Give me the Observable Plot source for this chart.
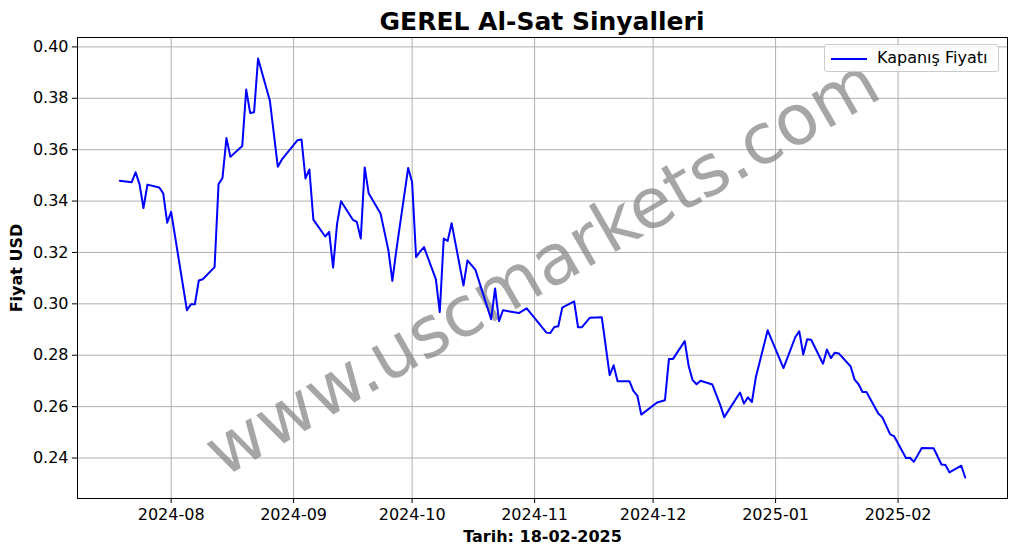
<!DOCTYPE html>
<html>
<head>
<meta charset="utf-8">
<script src="https://cdn.jsdelivr.net/npm/d3@7"></script>
<script src="https://cdn.jsdelivr.net/npm/@observablehq/plot@0.6"></script>
<style>
  html, body { margin: 0; padding: 0; background: #fff; }
  #wrap { position: relative; width: 1017px; height: 554px; font-family: "DejaVu Sans", sans-serif; }
  #title { position: absolute; left: 77px; width: 930px; top: 7px; line-height: 29px; text-align: center;
           font-weight: bold; font-size: 25px; color: #000; white-space: nowrap; }
  #spacer { height: 30px; }
  #legend { position: absolute; left: 824px; top: 44px; width: 175px; height: 28px; box-sizing: border-box;
            border: 1px solid #cccccc; border-radius: 3px; background: rgba(255,255,255,0.8); }
  #legend .sw { position: absolute; left: 6px; top: 13px; width: 36px; height: 2px; background: #0000ff; }
  #legend .lb { position: absolute; left: 52px; top: 3px; font-size: 16px; line-height: 20px; color: #000; white-space: nowrap; }
</style>
</head>
<body>
<div id="wrap">
  <div id="title">GEREL Al-Sat Sinyalleri</div>
  <div id="spacer"></div>
  <div id="chart"></div>
  <div id="legend"><div class="sw"></div><div class="lb">Kapanış Fiyatı</div></div>
</div>
<script>
const dates = [
  "2024-07-19","2024-07-22","2024-07-23","2024-07-24","2024-07-25","2024-07-26",
  "2024-07-29","2024-07-30","2024-07-31","2024-08-01",
  "2024-08-05","2024-08-06","2024-08-07","2024-08-08","2024-08-09",
  "2024-08-12","2024-08-13","2024-08-14","2024-08-15","2024-08-16",
  "2024-08-19","2024-08-20","2024-08-21","2024-08-22","2024-08-23",
  "2024-08-26","2024-08-28","2024-08-29",
  "2024-09-02","2024-09-03","2024-09-04","2024-09-05","2024-09-06",
  "2024-09-09","2024-09-10","2024-09-11","2024-09-12","2024-09-13",
  "2024-09-16","2024-09-17","2024-09-18","2024-09-19","2024-09-20",
  "2024-09-23","2024-09-25","2024-09-26","2024-09-27",
  "2024-09-30","2024-10-01","2024-10-02","2024-10-03","2024-10-04",
  "2024-10-07","2024-10-08","2024-10-09","2024-10-10","2024-10-11",
  "2024-10-14","2024-10-15","2024-10-17",
  "2024-10-21","2024-10-22","2024-10-23","2024-10-24",
  "2024-10-28","2024-10-30",
  "2024-11-04","2024-11-05","2024-11-06","2024-11-07","2024-11-08",
  "2024-11-11","2024-11-12","2024-11-13","2024-11-15",
  "2024-11-18","2024-11-20","2024-11-21","2024-11-22",
  "2024-11-25","2024-11-26","2024-11-27","2024-11-28",
  "2024-12-02","2024-12-04","2024-12-05","2024-12-06",
  "2024-12-09","2024-12-10","2024-12-11","2024-12-12","2024-12-13",
  "2024-12-16","2024-12-18","2024-12-19",
  "2024-12-23","2024-12-24","2024-12-25","2024-12-26","2024-12-27",
  "2024-12-30","2025-01-03",
  "2025-01-06","2025-01-07","2025-01-08","2025-01-09","2025-01-10",
  "2025-01-13","2025-01-14","2025-01-15","2025-01-16","2025-01-17",
  "2025-01-20","2025-01-21","2025-01-22","2025-01-23","2025-01-24",
  "2025-01-27","2025-01-28","2025-01-30","2025-01-31",
  "2025-02-03","2025-02-04","2025-02-05","2025-02-07",
  "2025-02-10","2025-02-12","2025-02-13","2025-02-14",
  "2025-02-17","2025-02-18"
];
const closes = [
  0.3479,0.3473,0.3512,0.3466,0.3373,0.3464,
  0.3453,0.3430,0.3316,0.3358,
  0.2975,0.2998,0.2998,0.3091,0.3096,
  0.3143,0.3466,0.3490,0.3645,0.3572,
  0.3614,0.3834,0.3743,0.3746,0.3955,
  0.3790,0.3534,0.3561,
  0.3637,0.3640,0.3488,0.3523,0.3328,
  0.3262,0.3280,0.3141,0.3311,0.3399,
  0.3327,0.3319,0.3254,0.3531,0.3430,
  0.3352,0.3208,0.3089,0.3208,
  0.3529,0.3473,0.3182,0.3203,0.3221,
  0.3096,0.2968,0.3254,0.3245,0.3314,
  0.3071,0.3169,0.3133,
  0.2940,0.3060,0.2933,0.2975,
  0.2964,0.2982,
  0.2888,0.2887,0.2910,0.2913,0.2985,
  0.3010,0.2909,0.2909,0.2946,
  0.2948,0.2723,0.2761,0.2699,
  0.2699,0.2661,0.2643,0.2569,
  0.2616,0.2625,0.2785,0.2785,
  0.2855,0.2758,0.2703,0.2687,0.2701,
  0.2686,0.2606,0.2559,
  0.2655,0.2612,0.2636,0.2618,0.2714,
  0.2897,0.2750,
  0.2871,0.2893,0.2803,0.2862,0.2860,
  0.2767,0.2822,0.2789,0.2810,0.2807,
  0.2756,0.2705,0.2687,0.2657,0.2657,
  0.2573,0.2559,0.2492,0.2485,
  0.2400,0.2401,0.2385,0.2439,
  0.2438,0.2375,0.2373,0.2344,
  0.2370,0.2324
];
const xTickLabels = ["2024-08","2024-09","2024-10","2024-11","2024-12","2025-01","2025-02"];
const yTicks = [0.24,0.26,0.28,0.30,0.32,0.34,0.36,0.38,0.40];
const watermark = "www.uscmarkets.com";
const xLabel = "Tarih: 18-02-2025";
const yLabel = "Fiyat USD";

const data = dates.map((d, i) => ({date: new Date(d + "T00:00:00Z"), close: closes[i]}));
const xTicks = xTickLabels.map(s => new Date(s + "-01T00:00:00Z"));
const xe = d3.extent(data, d => d.date);
const xp = (xe[1] - xe[0]) * 0.05;
const xDomain = [new Date(+xe[0] - xp), new Date(+xe[1] + xp)];
const ye = d3.extent(data, d => d.close);
const yp = (ye[1] - ye[0]) * 0.05;
const yDomain = [ye[0] - yp, ye[1] + yp];

const gridStyle = {stroke: "#b0b0b0", strokeOpacity: 1, strokeWidth: 1};

const chart = Plot.plot({
  width: 1017,
  height: 524,
  marginTop: 7,
  marginBottom: 56,
  marginLeft: 77,
  marginRight: 10,
  style: {fontFamily: "'DejaVu Sans', sans-serif", fontSize: "16px", color: "#000", background: "#fff", overflow: "visible"},
  x: {type: "utc", domain: xDomain},
  y: {domain: yDomain},
  marks: [
    Plot.gridX(xTicks, {x: d => d, ...gridStyle}),
    Plot.gridY(yTicks, {y: d => d, ...gridStyle}),
    Plot.text([watermark], {text: d => d, frameAnchor: "middle", rotate: -30, fontSize: 70, fill: "gray", fillOpacity: 0.7}),
    Plot.line(data, {x: "date", y: "close", stroke: "#0000ff", strokeWidth: 2}),
    Plot.frame({stroke: "#000", strokeWidth: 1}),
    Plot.axisX({ticks: xTicks, tickFormat: d3.utcFormat("%Y-%m"), tickSize: 5, tickPadding: 5, label: null, fontSize: 16}),
    Plot.axisY({ticks: yTicks, tickFormat: d3.format(".2f"), tickSize: 5, tickPadding: 4, label: null, fontSize: 16}),
    Plot.text([xLabel], {text: d => d, frameAnchor: "bottom", dy: 43, fontWeight: "bold", fontSize: 16}),
    Plot.text([yLabel], {text: d => d, frameAnchor: "left", textAnchor: "middle", dx: -61, rotate: -90, fontWeight: "bold", fontSize: 16})
  ]
});
document.getElementById("chart").appendChild(chart);
</script>
</body>
</html>
